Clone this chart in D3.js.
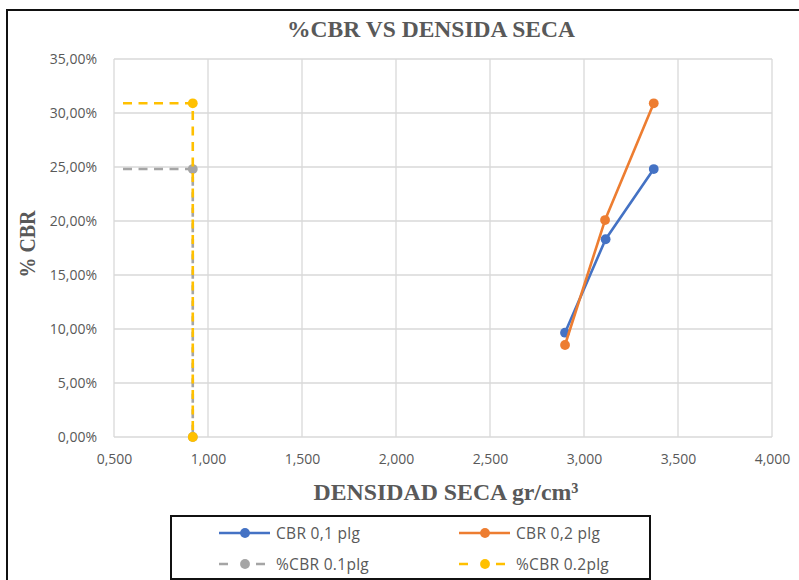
<!DOCTYPE html>
<html>
<head>
<meta charset="utf-8">
<script src="https://cdn.jsdelivr.net/npm/d3@7/dist/d3.min.js"></script>
<style>
  html, body { margin: 0; padding: 0; background: #fff; }
  svg { display: block; }
</style>
</head>
<body>
<svg id="chart" width="799" height="580"></svg>
<script>
// Measured points: dry density (gr/cm³) vs CBR
const density01 = [2.899, 3.115, 3.371];
const cbr01 = [0.0966, 0.1831, 0.2481];
const density02 = [2.899, 3.112, 3.371];
const cbr02 = [0.0852, 0.2009, 0.3090];

// Design reading lines (horizontal to the curve value, then down to the axis)
const readX01 = [0.548, 0.919, 0.919];
const readY01 = [0.2481, 0.2481, 0];
const readX02 = [0.548, 0.919, 0.919];
const readY02 = [0.3090, 0.3090, 0];

const xTicks = [0.5, 1.0, 1.5, 2.0, 2.5, 3.0, 3.5, 4.0];
const yTicks = [0, 0.05, 0.10, 0.15, 0.20, 0.25, 0.30, 0.35];

const titleText = "%CBR VS DENSIDA SECA";
const xTitle = "DENSIDAD SECA gr/cm³";
const yTitle = "% CBR";
const legendNames = ["CBR 0,1 plg", "CBR 0,2 plg", "%CBR 0.1plg", "%CBR 0.2plg"];

const colBlue = "#4472c4", colOrange = "#ed7d31", colGray = "#a5a5a5", colGold = "#ffc000";
const textCol = "#595959";

const svg = d3.select("#chart");

// chart frame
svg.append("rect").attr("x", 7).attr("y", 10).attr("width", 800).attr("height", 580)
  .attr("fill", "#fff").attr("stroke", "#111").attr("stroke-width", 2);

const plotL = 114, plotR = 772, plotT = 59, plotB = 437;
const x = d3.scaleLinear().domain([0.5, 4.0]).range([plotL, plotR]);
const y = d3.scaleLinear().domain([0, 0.35]).range([plotB, plotT]);

const fmtX = v => d3.format(".3f")(v).replace(".", ",");
const fmtY = v => d3.format(".2f")(v * 100).replace(".", ",") + "%";

// gridlines
const grid = svg.append("g");
grid.selectAll("line.v").data(xTicks).join("line")
  .attr("x1", d => x(d)).attr("x2", d => x(d)).attr("y1", plotT).attr("y2", plotB)
  .attr("stroke", "#d9d9d9").attr("stroke-width", 1.3);
grid.selectAll("line.h").data(yTicks).join("line")
  .attr("x1", plotL).attr("x2", plotR).attr("y1", d => y(d)).attr("y2", d => y(d))
  .attr("stroke", "#d9d9d9").attr("stroke-width", 1.3);

// axes (labels only; lines drawn by grid)
const xAxis = svg.append("g").attr("transform", `translate(0,${plotB})`)
  .call(d3.axisBottom(x).tickValues(xTicks).tickFormat(fmtX).tickSize(0).tickPadding(17));
const yAxis = svg.append("g").attr("transform", `translate(${plotL},0)`)
  .call(d3.axisLeft(y).tickValues(yTicks).tickFormat(fmtY).tickSize(0).tickPadding(17));
[xAxis, yAxis].forEach(a => {
  a.select(".domain").remove();
  a.selectAll("text").attr("fill", textCol)
    .style("font-family", "'Open Sans', 'Noto Sans', sans-serif").style("font-size", "14px");
});

const line = d3.line().x(d => x(d[0])).y(d => y(d[1]));
const zip = (a, b) => a.map((v, i) => [v, b[i]]);

const series = [
  { pts: zip(readX01, readY01), color: colGray, dash: "9,6.5", markerFrom: 1 },
  { pts: zip(readX02, readY02), color: colGold, dash: "9,6.5", markerFrom: 1 },
  { pts: zip(density01, cbr01), color: colBlue, dash: null, markerFrom: 0 },
  { pts: zip(density02, cbr02), color: colOrange, dash: null, markerFrom: 0 }
];

series.forEach(s => {
  svg.append("path").attr("d", line(s.pts)).attr("fill", "none")
    .attr("stroke", s.color).attr("stroke-width", 2.6)
    .attr("stroke-dasharray", s.dash)
    .attr("stroke-linejoin", "round");
  svg.append("g").selectAll("circle").data(s.pts.slice(s.markerFrom)).join("circle")
    .attr("cx", d => x(d[0])).attr("cy", d => y(d[1])).attr("r", 4.9)
    .attr("fill", s.color);
});

// titles
svg.append("text").attr("x", 431).attr("y", 37).attr("text-anchor", "middle")
  .attr("textLength", 288).attr("lengthAdjust", "spacingAndGlyphs")
  .style("font-family", "'Liberation Serif', 'DejaVu Serif', serif")
  .style("font-weight", "bold").style("font-size", "24px").attr("fill", textCol)
  .text(titleText);

svg.append("text").attr("x", 446).attr("y", 500).attr("text-anchor", "middle")
  .attr("textLength", 265).attr("lengthAdjust", "spacingAndGlyphs")
  .style("font-family", "'Liberation Serif', 'DejaVu Serif', serif")
  .style("font-weight", "bold").style("font-size", "24px").attr("fill", textCol)
  .text(xTitle);

svg.append("text").attr("transform", "translate(35,244) rotate(-90)").attr("text-anchor", "middle")
  .attr("textLength", 67).attr("lengthAdjust", "spacingAndGlyphs")
  .style("font-family", "'Liberation Serif', 'DejaVu Serif', serif")
  .style("font-weight", "bold").style("font-size", "24px").attr("fill", textCol)
  .text(yTitle);

// legend
svg.append("rect").attr("x", 171).attr("y", 516).attr("width", 479).attr("height", 63)
  .attr("fill", "#fff").attr("stroke", "#111").attr("stroke-width", 2);

const legendItems = [
  { name: legendNames[0], color: colBlue, dash: null, lx: 219, ly: 533 },
  { name: legendNames[1], color: colOrange, dash: null, lx: 459, ly: 533 },
  { name: legendNames[2], color: colGray, dash: "9,14,0,14,9", lx: 219, ly: 564 },
  { name: legendNames[3], color: colGold, dash: "9,14,0,14,9", lx: 459, ly: 564 }
];
const lg = svg.append("g");
legendItems.forEach(it => {
  lg.append("line").attr("x1", it.lx).attr("x2", it.lx + 51).attr("y1", it.ly).attr("y2", it.ly)
    .attr("stroke", it.color).attr("stroke-width", 2.6).attr("stroke-dasharray", it.dash);
  lg.append("circle").attr("cx", it.lx + 26).attr("cy", it.ly).attr("r", 4.9).attr("fill", it.color);
  lg.append("text").attr("x", it.lx + 57).attr("y", it.ly + 5.5).attr("fill", textCol)
    .style("font-family", "'Open Sans', 'Noto Sans', sans-serif").style("font-size", "15.5px")
    .style("letter-spacing", "0.3px")
    .text(it.name);
});
</script>
</body>
</html>
